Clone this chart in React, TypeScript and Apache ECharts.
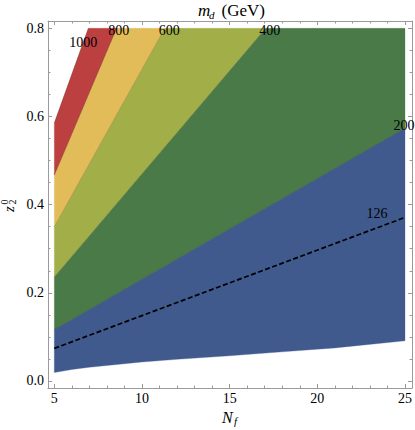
import React, { useEffect, useRef } from "react";
import * as echarts from "echarts";

// ---- data ----
const xMajor = [5, 10, 15, 20, 25];
const xMinor = [6, 7, 8, 9, 11, 12, 13, 14, 16, 17, 18, 19, 21, 22, 23, 24];
const yMajor = [0, 0.2, 0.4, 0.6, 0.8];
const yMinor = [0.05, 0.1, 0.15, 0.25, 0.3, 0.35, 0.45, 0.5, 0.55, 0.65, 0.7, 0.75];

// lower boundary of the allowed region [Nf, z]
const lowerEdge: number[][] = [
  [5, 0.019], [6, 0.026], [7, 0.031], [8, 0.035], [10, 0.043], [12, 0.049],
  [15, 0.057], [18, 0.066], [21, 0.075], [25, 0.091],
];
// contour lines m_d = const
const c200: number[][] = [[5, 0.117], [25, 0.574]];
const c400: number[][] = [[5, 0.236], [17.05, 0.8]];
const c600: number[][] = [[5, 0.35], [11.3, 0.8]];
const c800: number[][] = [[5, 0.467], [8.55, 0.8]];
const c1000: number[][] = [[5, 0.585], [6.94, 0.8]];
const c126: number[][] = [[5, 0.074], [25, 0.371]];
const topRight: number[] = [25, 0.8];

// contour labels [Nf, z, text]
const contourLabels: [number, number, string][] = [
  [6.65, 0.767, "1000"],
  [8.67, 0.796, "800"],
  [11.56, 0.796, "600"],
  [17.29, 0.796, "400"],
  [24.95, 0.58, "200"],
  [23.41, 0.381, "126"],
];

const regionColors = {
  blue: "#405A8E",
  green: "#4A7A48",
  olive: "#A2AE48",
  yellow: "#E2BC58",
  red: "#BC4040",
};

const serif = "Liberation Serif, serif";
const frameColor = "#9a9a9a";

const rev = (a: number[][]) => a.slice().reverse();

const regions = [
  { pts: [...lowerEdge, ...rev(c200)], color: regionColors.blue },
  { pts: [...c200, topRight, ...rev(c400)], color: regionColors.green },
  { pts: [...c400, ...rev(c600)], color: regionColors.olive },
  { pts: [...c600, ...rev(c800)], color: regionColors.yellow },
  { pts: [...c800, ...rev(c1000)], color: regionColors.red },
];

function renderItem(_params: any, api: any) {
  const c = (p: number[]) => api.coord(p);
  const children: any[] = [];
  regions.forEach((r) => {
    children.push({
      type: "polygon",
      shape: { points: r.pts.map(c) },
      style: { fill: r.color, stroke: r.color, lineWidth: 0.3 },
    });
  });
  [c200, c400, c600, c800, c1000].forEach((l) => {
    children.push({
      type: "polyline",
      shape: { points: l.map(c) },
      style: { stroke: "rgba(0,0,0,0.28)", lineWidth: 0.6, fill: null },
    });
  });
  children.push({
    type: "polyline",
    shape: { points: c126.map(c) },
    style: { stroke: "#000", lineWidth: 1.7, lineDash: [5, 2.5], fill: null },
  });
  contourLabels.forEach(([x, y, t]) => {
    const p = c([x, y]);
    children.push({
      type: "text",
      x: p[0],
      y: p[1],
      style: {
        text: t,
        fill: "#000",
        fontFamily: serif,
        fontSize: 14,
        align: "center",
        verticalAlign: "middle",
      },
    });
  });
  return { type: "group", children };
}

const xMin = 4.64, xMax = 25.4, yMin = -0.016, yMax = 0.8166;

function xAx(position: string, ticks: number[], len: number, labels: boolean, line: boolean) {
  return {
    type: "value",
    position,
    min: xMin,
    max: xMax,
    axisLine: { show: line, onZero: false, lineStyle: { color: frameColor, width: 1 } },
    axisTick: { show: true, inside: true, length: len, customValues: ticks, lineStyle: { color: frameColor, width: 1 } },
    axisLabel: labels
      ? { show: true, customValues: ticks, margin: 3, color: "#000", fontFamily: serif, fontSize: 14, formatter: (v: number) => String(v) }
      : { show: false },
    splitLine: { show: false },
  };
}
function yAx(position: string, ticks: number[], len: number, labels: boolean, line: boolean) {
  return {
    type: "value",
    position,
    min: yMin,
    max: yMax,
    axisLine: { show: line, onZero: false, lineStyle: { color: frameColor, width: 1 } },
    axisTick: { show: true, inside: true, length: len, customValues: ticks, lineStyle: { color: frameColor, width: 1 } },
    axisLabel: labels
      ? { show: true, customValues: ticks, margin: 4, color: "#000", fontFamily: serif, fontSize: 14, formatter: (v: number) => v.toFixed(1) }
      : { show: false },
    splitLine: { show: false },
  };
}

export default function App() {
  const ref = useRef<HTMLDivElement>(null);
  useEffect(() => {
    if (!ref.current) return;
    const chart = echarts.init(ref.current, null, { renderer: "svg" });
    chart.setOption({
      animation: false,
      backgroundColor: "#fff",
      grid: { left: 48, right: 1, top: 21, bottom: 42, containLabel: false },
      xAxis: [
        xAx("bottom", xMajor, 4, true, true),
        xAx("bottom", xMinor, 2.5, false, false),
        xAx("top", xMajor, 4, false, true),
        xAx("top", xMinor, 2.5, false, false),
      ],
      yAxis: [
        yAx("left", yMajor, 4, true, true),
        yAx("left", yMinor, 2.5, false, false),
        yAx("right", yMajor, 4, false, true),
        yAx("right", yMinor, 2.5, false, false),
      ],
      series: [
        {
          type: "custom",
          xAxisIndex: 0,
          yAxisIndex: 0,
          renderItem,
          data: [0],
          silent: true,
        },
      ],
      graphic: [
        // title m_d (GeV)
        { type: "text", x: 198, y: 10.5, style: { text: "m", fontFamily: serif, fontStyle: "italic", fontSize: 17, fill: "#000", align: "left", verticalAlign: "middle" } },
        { type: "text", x: 209, y: 14.5, style: { text: "d", fontFamily: serif, fontStyle: "italic", fontSize: 11, fill: "#000", align: "left", verticalAlign: "middle" } },
        { type: "text", x: 221.5, y: 10.5, style: { text: "(GeV)", fontFamily: serif, fontSize: 17, fill: "#000", align: "left", verticalAlign: "middle" } },
        // x axis name N_f
        { type: "text", x: 222, y: 417, style: { text: "N", fontFamily: serif, fontStyle: "italic", fontSize: 16, fill: "#000", align: "left", verticalAlign: "middle" } },
        { type: "text", x: 234, y: 421, style: { text: "f", fontFamily: serif, fontStyle: "italic", fontSize: 11, fill: "#000", align: "left", verticalAlign: "middle" } },
        // y axis name z_2^0 (rotated)
        {
          type: "group",
          x: 9,
          y: 205,
          rotation: Math.PI / 2,
          children: [
            { type: "text", x: -4, y: 0, style: { text: "z", fontFamily: serif, fontStyle: "italic", fontSize: 15, fill: "#000", align: "center", verticalAlign: "middle" } },
            { type: "text", x: 3, y: 3.5, style: { text: "2", fontFamily: serif, fontSize: 10, fill: "#000", align: "center", verticalAlign: "middle" } },
            { type: "text", x: 3, y: -4.5, style: { text: "0", fontFamily: serif, fontSize: 10, fill: "#000", align: "center", verticalAlign: "middle" } },
          ],
        },
      ],
    });
    return () => chart.dispose();
  }, []);
  return (
    <div
      ref={ref}
      style={{ position: "absolute", left: 0, top: 0, width: 415, height: 430 }}
    />
  );
}
